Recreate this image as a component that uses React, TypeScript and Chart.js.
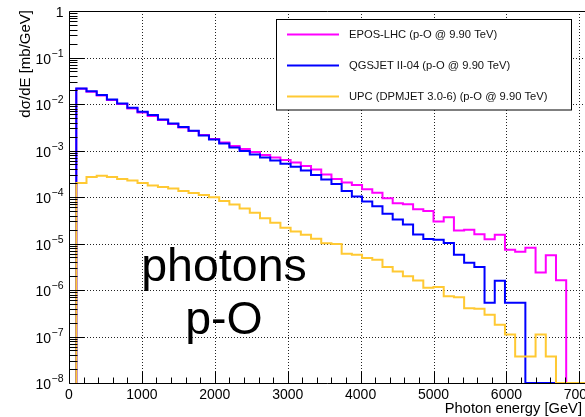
import React, { useEffect, useRef } from "react";
import { Chart, registerables } from "chart.js";

Chart.register(...registerables);

// ---------------- data ----------------
const binStart = 100; // GeV, lower edge of the first bin
const binWidth = 140; // GeV

// dσ/dE [mb/GeV] per bin (0 = empty bin)
const eposValues = [
  0.0214, 0.01845, 0.01514, 0.01213, 0.00995, 0.00797, 0.00654, 0.0055, 0.00451, 0.0037,
  0.00312, 0.00262, 0.00215, 0.00177, 0.00149, 0.00125, 0.00108, 9.29e-4, 8.0e-4, 7.08e-4,
  6.25e-4, 5.52e-4, 4.65e-4, 3.91e-4, 3.05e-4, 2.45e-4, 2.06e-4, 1.82e-4, 1.47e-4, 1.24e-4,
  9.42e-5, 7.36e-5, 7.0e-5, 5.47e-5, 5.03e-5, 2.97e-5, 3.69e-5, 1.9e-5, 1.97e-5, 1.58e-5,
  1.23e-5, 1.54e-5, 7.32e-6, 6.64e-6, 8.09e-6, 2.39e-6, 5.58e-6, 1.62e-6,
];
const qgsjetValues = [
  0.0216, 0.0189, 0.0157, 0.01255, 0.0103, 0.00829, 0.0068, 0.00578, 0.00467, 0.00383,
  0.00319, 0.00266, 0.0021, 0.00172, 0.00141, 0.00116, 9.75e-4, 8.2e-4, 7.08e-4, 6.1e-4,
  5.21e-4, 4.49e-4, 3.72e-4, 2.98e-4, 2.39e-4, 1.91e-4, 1.35e-4, 1.03e-4, 7.97e-5, 6.29e-5,
  4.34e-5, 3.27e-5, 2.56e-5, 1.56e-5, 1.25e-5, 1.2e-5, 1.02e-5, 5.72e-6, 3.85e-6, 3.12e-6,
  5.33e-7, 1.58e-6, 5.33e-7, 5.33e-7, 0, 0, 0, 0,
];
const upcValues = [
  2.01e-4, 2.7e-4, 2.86e-4, 2.7e-4, 2.45e-4, 2.27e-4, 2.01e-4, 1.77e-4, 1.65e-4, 1.53e-4,
  1.35e-4, 1.22e-4, 1.11e-4, 9.9e-5, 8.25e-5, 6.94e-5, 5.69e-5, 4.56e-5, 3.47e-5, 2.78e-5,
  2.17e-5, 1.81e-5, 1.54e-5, 1.26e-5, 1.01e-5, 9.7e-6, 6.01e-6, 5.73e-6, 4.86e-6, 4.47e-6,
  3.12e-6, 2.51e-6, 1.98e-6, 1.61e-6, 1.12e-6, 1.16e-6, 7.3e-7, 7.0e-7, 4.07e-7, 3.97e-7,
  2.95e-7, 1.8e-7, 1.1e-7, 3.71e-8, 3.71e-8, 1.1e-7, 3.71e-8, 0,
];

const seriesLabels = [
  "EPOS-LHC (p-O @ 9.90 TeV)",
  "QGSJET II-04 (p-O @ 9.90 TeV)",
  "UPC (DPMJET 3.0-6) (p-O @ 9.90 TeV)",
];
const seriesColors = ["#ff00ff", "#0000ff", "#ffc933"];

const xTicks = [0, 1000, 2000, 3000, 4000, 5000, 6000, 7000];
const xMinorStep = 200;
const yTickExponents = [0, -1, -2, -3, -4, -5, -6, -7, -8];
const xMin = 0;
const xMax = 7078;
const yMin = 1e-8;
const yMax = 1;

const xTitle = "Photon energy [GeV]";
const yTitle = "dσ/dE [mb/GeV]";
const bigText = ["photons", "p-O"];

const FONT = '"Liberation Sans", Arial, Helvetica, sans-serif';

function toSteps(values: number[]) {
  const pts: { x: number; y: number }[] = [{ x: binStart, y: yMin }];
  values.forEach((v, i) => {
    pts.push({ x: binStart + i * binWidth, y: v > 0 ? v : yMin });
  });
  pts.push({ x: binStart + values.length * binWidth, y: yMin });
  pts.push({ x: xMax, y: yMin });
  return pts;
}

const rootPlugin = {
  id: "rootStyle",
  beforeDatasetsDraw(chart: any) {
    const { ctx, chartArea: a, scales } = chart;
    const x = scales.x;
    const y = scales.y;
    ctx.save();
    ctx.strokeStyle = "#222";
    ctx.lineWidth = 1;
    ctx.setLineDash([1, 2]);
    ctx.beginPath();
    for (const t of xTicks) {
      if (t <= xMin) continue;
      const px = Math.round(x.getPixelForValue(t)) + 0.5;
      ctx.moveTo(px, a.top);
      ctx.lineTo(px, a.bottom);
    }
    for (const e of yTickExponents) {
      const v = Math.pow(10, e);
      if (v <= yMin || v >= yMax) continue;
      const py = Math.round(y.getPixelForValue(v)) + 0.5;
      ctx.moveTo(a.left, py);
      ctx.lineTo(a.right, py);
    }
    ctx.stroke();
    ctx.restore();
  },
  afterDatasetsDraw(chart: any) {
    const { ctx, chartArea: a, scales } = chart;
    const x = scales.x;
    const y = scales.y;
    ctx.save();
    ctx.setLineDash([]);
    ctx.strokeStyle = "#000";
    ctx.lineWidth = 1;

    // frame: left axis, bottom axis, top line
    const L = Math.round(a.left) + 0.5;
    const B = Math.round(a.bottom) + 0.5;
    const T = Math.round(a.top) + 0.5;
    ctx.beginPath();
    ctx.moveTo(L, T);
    ctx.lineTo(L, B);
    ctx.lineTo(a.right, B);
    ctx.moveTo(L, T);
    ctx.lineTo(a.right, T);
    ctx.stroke();

    // x ticks (inside, upward)
    ctx.beginPath();
    for (let v = xMin; v <= xMax; v += xMinorStep) {
      const px = Math.round(x.getPixelForValue(v)) + 0.5;
      const major = v % 1000 === 0;
      ctx.moveTo(px, B);
      ctx.lineTo(px, B - (major ? 12 : 6));
    }
    // y ticks (inside, rightwards)
    for (const e of yTickExponents) {
      const v = Math.pow(10, e);
      const py = Math.round(y.getPixelForValue(v)) + 0.5;
      ctx.moveTo(L, py);
      ctx.lineTo(L + 15, py);
    }
    for (let e = -8; e < 0; e++) {
      for (let m = 2; m <= 9; m++) {
        const v = m * Math.pow(10, e);
        const py = Math.round(y.getPixelForValue(v)) + 0.5;
        ctx.moveTo(L, py);
        ctx.lineTo(L + 8, py);
      }
    }
    ctx.stroke();

    // x tick labels
    ctx.fillStyle = "#000";
    ctx.font = `14px ${FONT}`;
    ctx.textAlign = "center";
    ctx.textBaseline = "alphabetic";
    for (const t of xTicks) {
      ctx.fillText(String(t), x.getPixelForValue(t), 399);
    }

    // y tick labels: 10^e
    for (const e of yTickExponents) {
      const py = y.getPixelForValue(Math.pow(10, e));
      if (e === 0) {
        ctx.font = `14px ${FONT}`;
        ctx.textAlign = "right";
        ctx.fillText("1", 63.5, py + 6);
        continue;
      }
      const exp = "\u2212" + String(-e);
      ctx.font = `10.5px ${FONT}`;
      ctx.textAlign = "right";
      ctx.fillText(exp, 63.5, py - 0.7);
      const w = ctx.measureText(exp).width;
      ctx.font = `14px ${FONT}`;
      ctx.fillText("10", 63.5 - w - 0.5, py + 6);
    }

    // axis titles
    ctx.font = `14.7px ${FONT}`;
    ctx.textAlign = "right";
    ctx.fillText(xTitle, 582, 412.5);
    ctx.save();
    ctx.font = `15px ${FONT}`;
    ctx.translate(30, 10);
    ctx.rotate(-Math.PI / 2);
    ctx.textAlign = "right";
    ctx.fillText(yTitle, 0, 0);
    ctx.restore();

    // big annotation
    ctx.font = `46.5px ${FONT}`;
    ctx.textAlign = "center";
    ctx.fillText(bigText[0], 224, 281);
    ctx.fillText(bigText[1], 224, 334);

    // legend box
    ctx.fillStyle = "#fff";
    ctx.fillRect(276.5, 19.5, 295, 90.5);
    ctx.strokeStyle = "#000";
    ctx.lineWidth = 1;
    ctx.strokeRect(276.5, 19.5, 295, 90.5);
    const rows = [34.5, 65.5, 96.5];
    ctx.font = `11.2px ${FONT}`;
    ctx.textAlign = "left";
    ctx.textBaseline = "middle";
    seriesLabels.forEach((lab, i) => {
      ctx.strokeStyle = seriesColors[i];
      ctx.lineWidth = 2;
      ctx.beginPath();
      ctx.moveTo(287, rows[i]);
      ctx.lineTo(339, rows[i]);
      ctx.stroke();
      ctx.fillStyle = "#111";
      ctx.fillText(lab, 349, rows[i]);
    });
    ctx.restore();
  },
};

export default function App() {
  const ref = useRef<HTMLCanvasElement | null>(null);
  useEffect(() => {
    document.body.style.margin = "0";
    const canvas = ref.current;
    if (!canvas) return;
    const series = [eposValues, qgsjetValues, upcValues];
    const chart = new Chart(canvas, {
      type: "line",
      data: {
        datasets: series.map((vals, i) => ({
          label: seriesLabels[i],
          data: toSteps(vals),
          borderColor: seriesColors[i],
          backgroundColor: seriesColors[i],
          borderWidth: 2,
          pointRadius: 0,
          stepped: "before" as const,
          fill: false,
          order: 2 - i,
        })),
      },
      options: {
        animation: false,
        responsive: false,
        devicePixelRatio: 1,
        layout: { padding: { left: 69, top: 11, right: 0, bottom: 34 } },
        scales: {
          x: { type: "linear", min: xMin, max: xMax, display: false },
          y: { type: "logarithmic", min: yMin, max: yMax, display: false },
        },
        plugins: {
          legend: { display: false },
          tooltip: { enabled: false },
        },
      },
      plugins: [rootPlugin],
    });
    return () => chart.destroy();
  }, []);
  return (
    <canvas
      ref={ref}
      width={585}
      height={417}
      style={{ display: "block", width: 585, height: 417 }}
    />
  );
}
